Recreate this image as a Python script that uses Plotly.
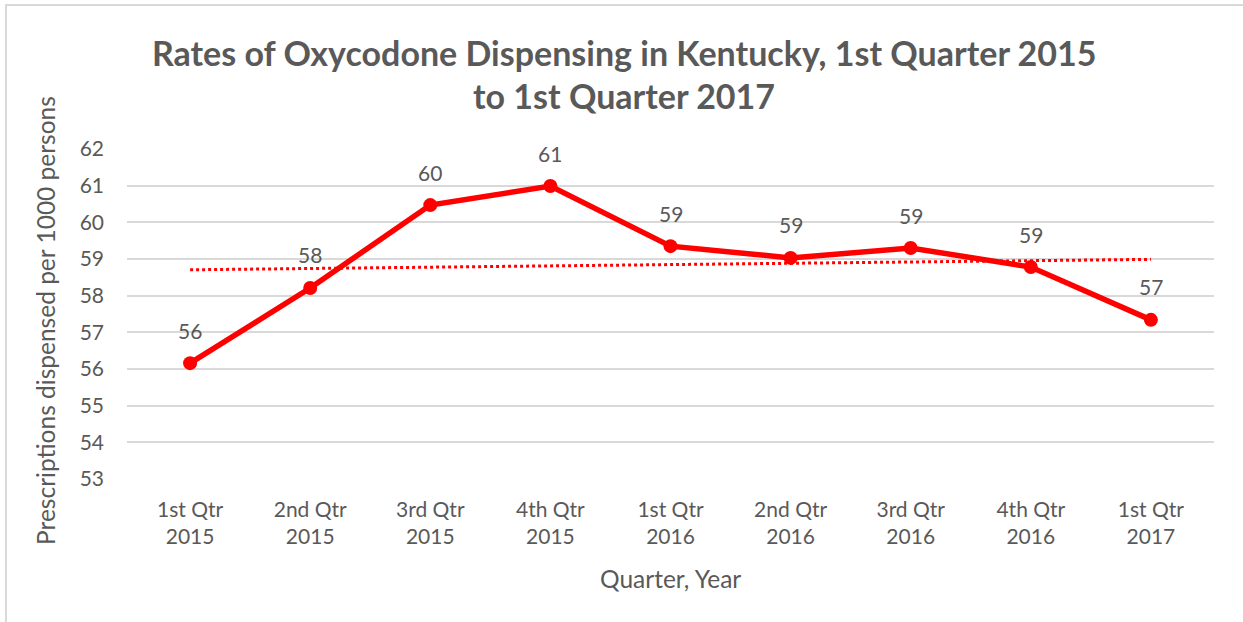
import numpy as np
import plotly.graph_objects as go

quarters = ["1st Qtr<br>2015", "2nd Qtr<br>2015", "3rd Qtr<br>2015", "4th Qtr<br>2015",
            "1st Qtr<br>2016", "2nd Qtr<br>2016", "3rd Qtr<br>2016", "4th Qtr<br>2016",
            "1st Qtr<br>2017"]
rates = [56.16, 58.21, 60.47, 60.99, 59.35, 59.03, 59.30, 58.78, 57.34]
rate_labels = ["56", "58", "60", "61", "59", "59", "59", "59", "57"]

# linear trendline like excel's
idx = np.arange(1, len(rates) + 1)
slope, icpt = np.polyfit(idx, rates, 1)
trend = slope * idx + icpt

W, H = 1243, 622
L, T = 127, 149
R = W - 1214
B = H - 479
pw, ph = W - L - R, H - T - B

def px_x(x):
    return (x - L) / pw

def px_y(y):
    return 1 - (y - T) / ph

font = "Lato, 'Open Sans', sans-serif"
grey = "#595959"

fig = go.Figure()
fig.add_trace(go.Scatter(x=quarters, y=trend, mode="lines",
                         line=dict(color="#ff0000", width=3, dash="dot"),
                         hoverinfo="skip"))
fig.add_trace(go.Scatter(x=quarters, y=rates, mode="lines+markers",
                         line=dict(color="#ff0000", width=5.5),
                         marker=dict(color="#ff0000", size=14)))

annots = []
for q, v, t in zip(quarters, rates, rate_labels):
    annots.append(dict(x=q, y=v, text=t, showarrow=False, yshift=33,
                       font=dict(size=21, color=grey, family=font)))

def label(text, x, y, size, angle=0):
    return dict(text=text, xref="paper", yref="paper", x=px_x(x), y=px_y(y),
                xanchor="center", yanchor="middle", textangle=angle,
                showarrow=False, font=dict(size=size, color=grey, family=font))

annots += [
    label("<b>Rates of Oxycodone Dispensing in Kentucky, 1st Quarter 2015</b>", 624, 52, 34),
    label("<b>to 1st Quarter 2017</b>", 624, 96, 34),
    label("Prescriptions dispensed per 1000 persons", 45, 321, 24.5, -90),
    label("Quarter, Year", 670, 578, 24.5),
]

fig.update_layout(
    width=W, height=H,
    margin=dict(l=L, r=R, t=T, b=B),
    paper_bgcolor="white", plot_bgcolor="white",
    showlegend=False,
    font=dict(family=font, color=grey, size=21),
    xaxis=dict(showgrid=False, zeroline=False, showline=False, ticks="",
               tickfont=dict(size=21, color=grey), ticklabelstandoff=16),
    yaxis=dict(range=[53, 62], dtick=1, showgrid=True, gridcolor="#d9d9d9",
               gridwidth=2, zeroline=False, showline=False, ticks="",
               tickfont=dict(size=21, color=grey), ticklabelstandoff=22),
    shapes=[dict(type="rect", xref="paper", yref="paper",
                 x0=px_x(6), x1=px_x(1260), y0=px_y(5), y1=px_y(640),
                 line=dict(color="#d9d9d9", width=2), fillcolor="rgba(0,0,0,0)",
                 layer="below")],
    annotations=annots,
)

# drop the default 8px body margin so the figure sits in the corner
fig.write_html("out.html", config={"displayModeBar": False},
               post_script="document.body.style.margin='0';")
